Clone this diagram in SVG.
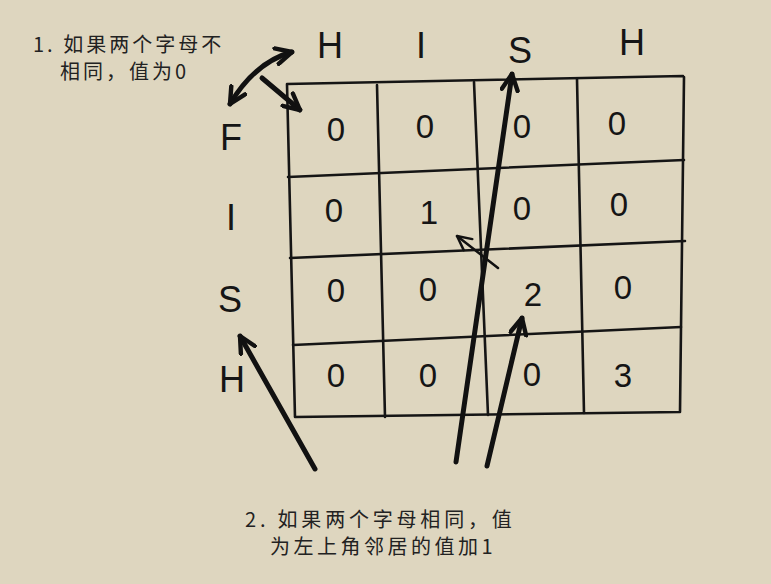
<svg xmlns="http://www.w3.org/2000/svg" width="771" height="584" viewBox="0 0 771 584">
<defs>
<marker id="v" viewBox="0 0 10 10" refX="9" refY="5" markerWidth="4" markerHeight="4" orient="auto-start-reverse" markerUnits="strokeWidth">
<polyline points="1,1 9,5 1,9" fill="none" stroke="#111" stroke-width="2.2" stroke-linecap="round" stroke-linejoin="round"/>
</marker>
<marker id="vt" viewBox="0 0 10 10" refX="9" refY="5" markerWidth="7" markerHeight="7" orient="auto" markerUnits="strokeWidth">
<polyline points="1,1 9,5 1,9" fill="none" stroke="#111" stroke-width="1.4" stroke-linecap="round" stroke-linejoin="round"/>
</marker>
</defs>
<style>
.g{fill:none;stroke:#151515;stroke-width:2.6;stroke-linecap:round}
.num{font-family:"Liberation Sans",Arial,sans-serif;font-size:33px;fill:#151515;text-anchor:middle}
.let{font-family:"Liberation Sans",Arial,sans-serif;font-size:36px;fill:#151515;text-anchor:middle}
.cn{font-family:"Noto Sans CJK SC",sans-serif;font-size:20px;fill:#222;letter-spacing:3px}
.ar{fill:none;stroke:#111;stroke-width:5;stroke-linecap:round}
</style>
<rect width="771" height="584" fill="#ded6bf"/>
<g id="grid">
<path class="g" d="M287,84 L683,76 M684,77 L680,412 M680,412 L295,417 M295,417 L287,84"/>
<path class="g" d="M288,177 L684,160 M290,258 L685,241 M293,345 L681,327"/>
<path class="g" d="M377,85 L385,417 M474,82 L488,415 M577,79 L584,413"/>
</g>
<g id="headers">
<text class="let" x="330" y="58">H</text>
<text class="let" x="421" y="58">I</text>
<text class="let" x="520" y="63">S</text>
<text class="let" x="632" y="55">H</text>
<text class="let" x="231" y="150">F</text>
<text class="let" x="231" y="230">I</text>
<text class="let" x="230" y="312">S</text>
<text class="let" x="232" y="392">H</text>
</g>
<g id="cells">
<text class="num" x="336" y="141">0</text>
<text class="num" x="425" y="138">0</text>
<text class="num" x="522" y="138">0</text>
<text class="num" x="617" y="135">0</text>
<text class="num" x="334" y="222">0</text>
<text class="num" x="429" y="224">1</text>
<text class="num" x="522" y="220">0</text>
<text class="num" x="619" y="216">0</text>
<text class="num" x="336" y="302">0</text>
<text class="num" x="428" y="301">0</text>
<text class="num" x="533" y="306">2</text>
<text class="num" x="623" y="299">0</text>
<text class="num" x="336" y="387">0</text>
<text class="num" x="428" y="387">0</text>
<text class="num" x="532" y="386">0</text>
<text class="num" x="623" y="387">3</text>
</g>
<g id="connectors">
<path class="ar" d="M456,462 L512,74" marker-end="url(#v)"/>
<path class="ar" d="M487,466 L522,318" marker-end="url(#v)"/>
<path class="ar" d="M315,469 L240,336" marker-end="url(#v)"/>
<path fill="none" stroke="#111" stroke-width="2.5" stroke-linecap="round" d="M498,268 L457,236" marker-end="url(#vt)"/>
<path class="ar" d="M230,104 Q255,62 292,52" marker-start="url(#v)" marker-end="url(#v)"/>
<path class="ar" d="M262,78 L300,110" marker-end="url(#v)"/>
</g>
<g id="notes">
<text class="cn" x="33" y="52">1. 如果两个字母不</text>
<text class="cn" x="60" y="79">相同，值为0</text>
<text class="cn" x="245" y="527" style="letter-spacing:3.8px">2. 如果两个字母相同，值</text>
<text class="cn" x="270" y="554" style="letter-spacing:3.5px">为左上角邻居的值加1</text>
</g>
</svg>
